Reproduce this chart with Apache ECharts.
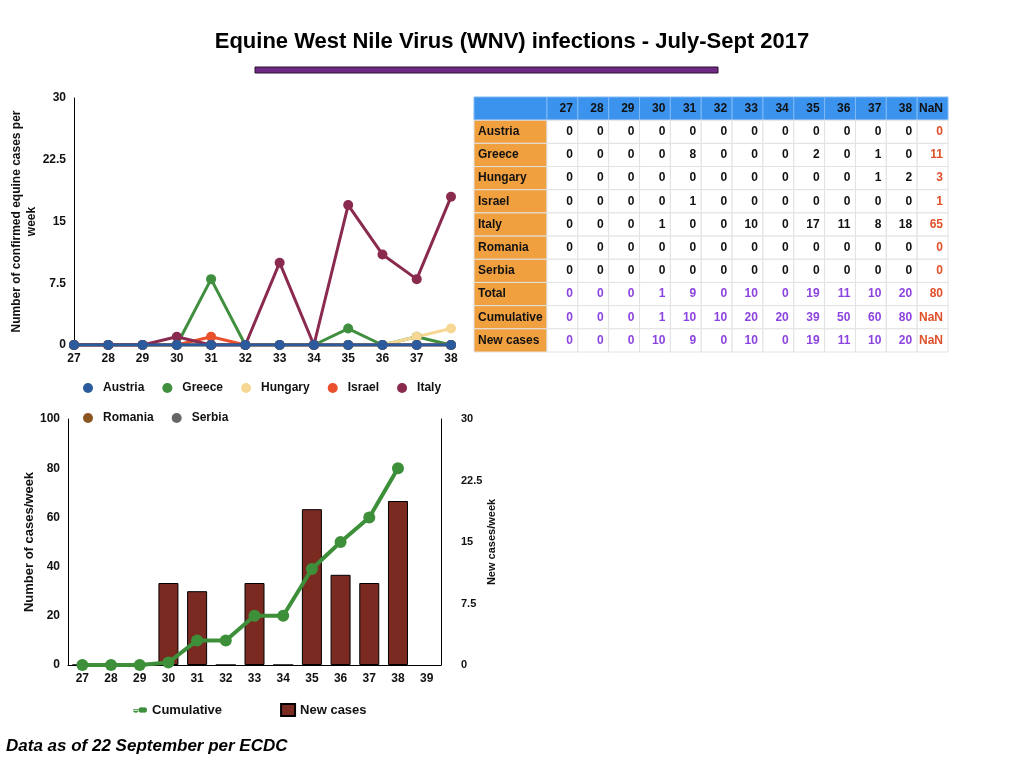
<!DOCTYPE html>
<html>
<head>
<meta charset="utf-8">
<script src="https://cdn.jsdelivr.net/npm/echarts@6/dist/echarts.min.js"></script>
<style>html,body{margin:0;padding:0;background:#fff}#chart{width:1024px;height:768px}</style>
</head>
<body>
<div id="chart"></div>
<script>
const weeks = ["27", "28", "29", "30", "31", "32", "33", "34", "35", "36", "37", "38"];
const weeks2 = ["27", "28", "29", "30", "31", "32", "33", "34", "35", "36", "37", "38", "39"];
const countries = ["Austria", "Greece", "Hungary", "Israel", "Italy", "Romania", "Serbia"];
const austria = [0, 0, 0, 0, 0, 0, 0, 0, 0, 0, 0, 0];
const greece = [0, 0, 0, 0, 8, 0, 0, 0, 2, 0, 1, 0];
const hungary = [0, 0, 0, 0, 0, 0, 0, 0, 0, 0, 1, 2];
const israel = [0, 0, 0, 0, 1, 0, 0, 0, 0, 0, 0, 0];
const italy = [0, 0, 0, 1, 0, 0, 10, 0, 17, 11, 8, 18];
const romania = [0, 0, 0, 0, 0, 0, 0, 0, 0, 0, 0, 0];
const serbia = [0, 0, 0, 0, 0, 0, 0, 0, 0, 0, 0, 0];
const totals = [0, 0, 0, 1, 9, 0, 10, 0, 19, 11, 10, 20];
const cumulative = [0, 0, 0, 1, 10, 10, 20, 20, 39, 50, 60, 80];
const newCases = [0, 0, 0, 10, 9, 0, 10, 0, 19, 11, 10, 20];
const countryTotals = [0, 11, 3, 1, 65, 0, 0];
const colors = ["#2b5b9c", "#3f8f3f", "#f6d894", "#e9502b", "#8a2a4f", "#8b5521", "#666666"];

const rowLabels = ["", ...countries, "Total", "Cumulative", "New cases"];
const colLabels = [...weeks, "Total"];
const byCountry = [austria, greece, hungary, israel, italy, romania, serbia];

// table cells: [col, row, text, kind]
const cells = [];
colLabels.forEach((c, i) => cells.push([i, 0, c, "head"]));
byCountry.forEach((arr, r) => {
  arr.forEach((v, i) => cells.push([i, r + 1, String(v), "num"]));
  cells.push([12, r + 1, String(countryTotals[r]), "tot"]);
});
[totals, cumulative, newCases].forEach((arr, k) => {
  arr.forEach((v, i) => cells.push([i, 8 + k, String(v), "sum"]));
  cells.push([12, 8 + k, k === 0 ? "80" : "", "tot"]);
});
const labelCells = rowLabels.map((l, r) => [0, r, l, r === 0 ? "head" : "label"]);

const fills = { head: "#3b93ee", label: "#f1a040", num: "#fff", tot: "#fff", sum: "#fff" };
const textColors = { head: "#111", label: "#111", num: "#111", tot: "#e0502b", sum: "#8c44e0" };

function cellRenderer(align) {
  return function (params, api) {
    const p = api.coord([api.value(0), api.value(1)]);
    const s = api.size([1, 1]);
    const kind = api.value(3);
    const x = p[0] - s[0] / 2, y = p[1] - s[1] / 2;
    return {
      type: "group",
      children: [
        { type: "rect", shape: { x, y, width: s[0], height: s[1] },
          style: { fill: fills[kind], stroke: kind === "head" ? "#7fb9f5" : "#e2e2e2", lineWidth: 1 } },
        { type: "text",
          style: { text: api.value(2), x: align === "left" ? x + 4 : x + s[0] - 5, y: p[1],
            align: align, verticalAlign: "middle", fill: textColors[kind],
            font: "bold 12px Helvetica, Arial, sans-serif" } },
      ],
    };
  };
}

const lineData = [austria, greece, hungary, israel, italy, romania, serbia];
const lineSeries = countries.map((name, i) => ({
  name, type: "line", xAxisIndex: 0, yAxisIndex: 0, data: lineData[i],
  symbol: "circle", symbolSize: 10, color: colors[i],
  lineStyle: { width: 3 }, z: i === 0 ? 10 : 3 + (i === 4 ? 1 : 0),
}));

const font = "Helvetica, Arial, sans-serif";
const axisLab = { color: "#111", fontWeight: "bold", fontSize: 12, fontFamily: font };

const chart = echarts.init(document.getElementById("chart"));
chart.setOption({
  animation: false,
  textStyle: { fontFamily: font },
  title: {
    text: "Equine West Nile Virus (WNV) infections - July-Sept 2017",
    left: "center", top: 26,
    textStyle: { fontSize: 22, fontWeight: "bold", color: "#000", fontFamily: font },
  },
  graphic: [
    { type: "rect", shape: { x: 255, y: 67, width: 463, height: 6 },
      style: { fill: "#6e2a80", stroke: "#2a0f30", lineWidth: 1 } },
    { type: "text", left: 6, top: 738,
      style: { text: "Data as of 22 September per ECDC", font: "italic bold 17px " + font, fill: "#000" } },
  ],
  legend: [
    { data: countries, left: 78, top: 377, width: 380, itemGap: 18, itemWidth: 20, itemHeight: 10,
      icon: "circle", textStyle: { fontSize: 12, fontWeight: "bold", color: "#111" } },
    { data: [{ name: "Cumulative", icon: "path://M0,4h8a4,4 0 1,1 0,2h-8z M4,5m-4,0a4,4 0 1,0 8,0 M12,5a4,4 0 1,1 8,0a4,4 0 1,1 -8,0" }, { name: "New cases", icon: "rect" }],
      left: 128, top: 698, itemGap: 58, itemWidth: 14, itemHeight: 12,
      textStyle: { fontSize: 13, fontWeight: "bold", color: "#111" } },
  ],
  grid: [
    { left: 74, top: 98, width: 377, height: 247 },
    { left: 68, top: 419, width: 373, height: 246 },
    { left: 474, top: 97, width: 73, height: 255 },
    { left: 547, top: 97, width: 401, height: 255 },
  ],
  xAxis: [
    { type: "category", gridIndex: 0, data: weeks, boundaryGap: false,
      axisLine: { lineStyle: { color: "#000" } }, axisTick: { show: false }, axisLabel: axisLab },
    { type: "category", gridIndex: 1, data: weeks2, boundaryGap: true,
      axisLine: { lineStyle: { color: "#000" } }, axisTick: { show: false }, axisLabel: axisLab },
    { type: "category", gridIndex: 2, data: ["l"], show: false },
    { type: "category", gridIndex: 3, data: colLabels, show: false },
  ],
  yAxis: [
    { type: "value", gridIndex: 0, min: 0, max: 30, interval: 7.5,
      name: "Number of confirmed equine cases per\nweek", nameLocation: "middle", nameGap: 28,
      nameTextStyle: { fontWeight: "bold", fontSize: 12, color: "#111", lineHeight: 15 },
      axisLine: { show: true, lineStyle: { color: "#000" } }, splitLine: { show: false }, axisLabel: axisLab },
    { type: "value", gridIndex: 1, min: 0, max: 100, interval: 20,
      name: "Number of cases/week", nameLocation: "middle", nameGap: 32,
      nameTextStyle: { fontWeight: "bold", fontSize: 13, color: "#111" },
      axisLine: { show: true, lineStyle: { color: "#000" } }, splitLine: { show: false }, axisLabel: axisLab },
    { type: "value", gridIndex: 1, min: 0, max: 30, interval: 7.5, position: "right",
      name: "New cases/week", nameLocation: "middle", nameGap: 42,
      nameTextStyle: { fontWeight: "bold", fontSize: 11, color: "#111" },
      axisLine: { show: true, lineStyle: { color: "#000" } }, splitLine: { show: false },
      axisLabel: Object.assign({}, axisLab, { margin: 20, fontSize: 11 }) },
    { type: "category", gridIndex: 2, data: rowLabels, inverse: true, show: false },
    { type: "category", gridIndex: 3, data: rowLabels, inverse: true, show: false },
  ],
  series: [
    ...lineSeries,
    { name: "New cases", type: "bar", xAxisIndex: 1, yAxisIndex: 2, data: newCases,
      barWidth: 20, itemStyle: { color: "#7b2a22", borderColor: "#000", borderWidth: 1 }, z: 2 },
    { name: "Cumulative", type: "line", xAxisIndex: 1, yAxisIndex: 1, data: cumulative,
      symbol: "circle", symbolSize: 12, color: "#3d8f3a", lineStyle: { width: 4 }, z: 5 },
    { type: "custom", xAxisIndex: 2, yAxisIndex: 3, data: labelCells, renderItem: cellRenderer("left"), silent: true },
    { type: "custom", xAxisIndex: 3, yAxisIndex: 4, data: cells, renderItem: cellRenderer("right"), silent: true },
  ],
});
</script>
</body>
</html>
